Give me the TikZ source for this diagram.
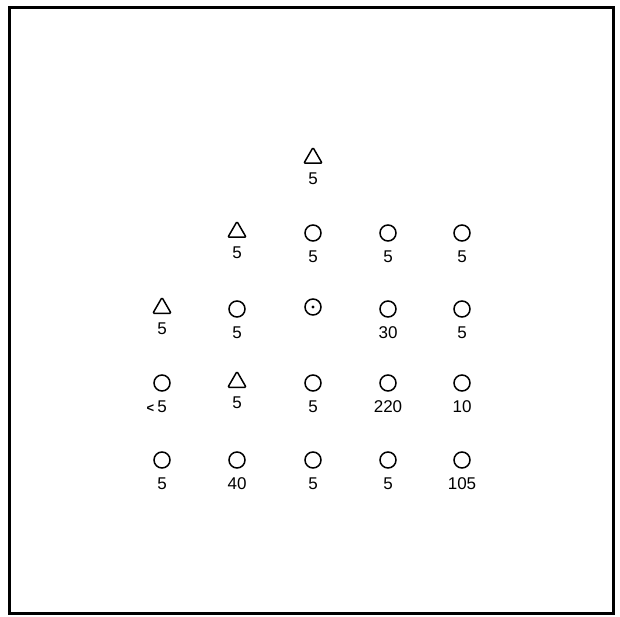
\documentclass[tikz,border=0pt]{standalone}
\usepackage{fontspec}
\setmainfont{Liberation Sans}
\usepackage{tikz}
\usetikzlibrary{positioning,shapes.geometric}
\tikzset{
  ring/.style={
    circle,
    draw=black,
    line width=1.5pt,
    minimum size=16pt,
    inner sep=0pt
  },
  ringdot/.style={
    ring,
    path picture={\fill (path picture bounding box.center) circle (1.7pt);}
  },
  tri/.style={
    regular polygon,
    regular polygon sides=3,
    draw=black,
    line width=1.5pt,
    rounded corners=1.2pt,
    minimum size=21pt,
    inner sep=0pt
  },
  val/.style={
    inner sep=0pt,
    font=\fontsize{17}{19}\selectfont
  }
}

\begin{document}
\begin{tikzpicture}[x=1pt,y=-1pt,node distance=9pt]

\useasboundingbox (0,0) rectangle (620,617);
\draw[line width=3pt] (9,8) rectangle (613,613);

% row a
\node[tri] (a3) at (313,158) {};
\node[val, below=of a3] (va3) {5};

% row b
\node[tri] (b2) at (237,232) {};
\node[val, below=of b2] (vb2) {5};
\node[ring] (b3) at (313,233) {};
\node[val, below=of b3] (vb3) {5};
\node[ring] (b4) at (388,233) {};
\node[val, below=of b4] (vb4) {5};
\node[ring] (b5) at (462,233) {};
\node[val, below=of b5] (vb5) {5};

% row c
\node[tri] (c1) at (162,308) {};
\node[val, below=of c1] (vc1) {5};
\node[ring] (c2) at (237,309) {};
\node[val, below=of c2] (vc2) {5};
\node[ringdot] (c3) at (313,307) {};
\node[ring] (c4) at (388,309) {};
\node[val, below=of c4] (vc4) {30};
\node[ring] (c5) at (462,309) {};
\node[val, below=of c5] (vc5) {5};

% row d
\node[ring] (d1) at (162,383) {};
\node[val, below=of d1] (vd1) {\llap{\fontsize{13}{15}\selectfont\bfseries<\hspace{3pt}}5};
\node[tri] (d2) at (237,382) {};
\node[val, below=of d2] (vd2) {5};
\node[ring] (d3) at (313,383) {};
\node[val, below=of d3] (vd3) {5};
\node[ring] (d4) at (388,383) {};
\node[val, below=of d4] (vd4) {220};
\node[ring] (d5) at (462,383) {};
\node[val, below=of d5] (vd5) {10};

% row e
\node[ring] (e1) at (162,460) {};
\node[val, below=of e1] (ve1) {5};
\node[ring] (e2) at (237,460) {};
\node[val, below=of e2] (ve2) {40};
\node[ring] (e3) at (313,460) {};
\node[val, below=of e3] (ve3) {5};
\node[ring] (e4) at (388,460) {};
\node[val, below=of e4] (ve4) {5};
\node[ring] (e5) at (462,460) {};
\node[val, below=of e5] (ve5) {105};

\end{tikzpicture}
\end{document}
